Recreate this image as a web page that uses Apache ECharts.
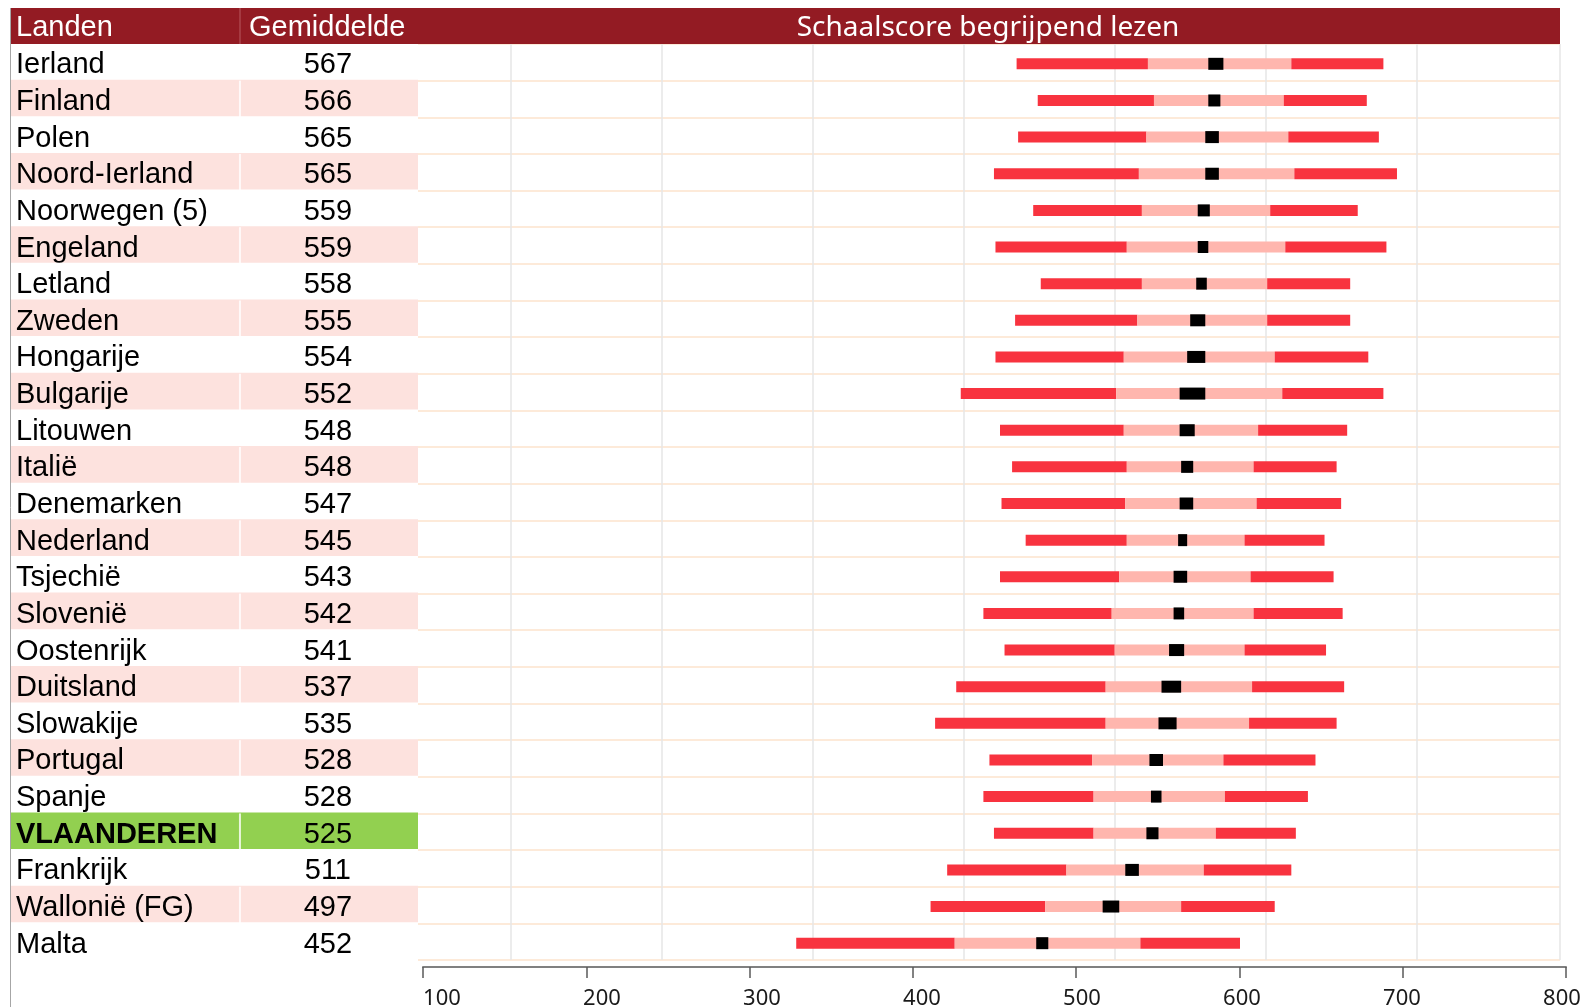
<!DOCTYPE html>
<html>
<head>
<meta charset="utf-8">
<title>Schaalscore begrijpend lezen</title>
<script src="https://cdn.jsdelivr.net/npm/echarts@6/dist/echarts.min.js"></script>
<style>
    html, body { margin: 0; padding: 0; background: #ffffff; }
    #chart { width: 1593px; height: 1007px; }
</style>
</head>
<body>
<div id="chart"></div>
<script>
// landen en gemiddelde score
var countries = ['Ierland', 'Finland', 'Polen', 'Noord-Ierland', 'Noorwegen (5)', 'Engeland', 'Letland',
    'Zweden', 'Hongarije', 'Bulgarije', 'Litouwen', 'Italië', 'Denemarken', 'Nederland', 'Tsjechië',
    'Slovenië', 'Oostenrijk', 'Duitsland', 'Slowakije', 'Portugal', 'Spanje', 'VLAANDEREN', 'Frankrijk',
    'Wallonië (FG)', 'Malta'];
var means = [567, 566, 565, 565, 559, 559, 558, 555, 554, 552, 548, 548, 547, 545, 543, 542, 541, 537,
    535, 528, 528, 525, 511, 497, 452];

// percentielen (5, 25, 75, 95) en betrouwbaarheidsinterval van het gemiddelde
var p5  = [435, 449, 436, 420, 446, 421, 451, 434, 421, 398, 424, 432, 425, 441, 424, 413, 427, 395, 381, 417, 413, 420, 389, 378, 289];
var p25 = [522, 526, 521, 516, 518, 508, 518, 515, 506, 501, 506, 508, 507, 508, 503, 498, 500, 494, 494, 485, 486, 486, 468, 454, 394];
var ciLow  = [562, 562, 560, 560, 555, 555, 554, 550, 548, 543, 543, 544, 543, 542, 539, 539, 536, 531, 529, 523, 524, 521, 507, 492, 448];
var ciHigh = [572, 570, 569, 569, 563, 562, 561, 560, 560, 560, 553, 552, 552, 548, 548, 546, 546, 544, 541, 532, 531, 529, 516, 503, 456];
var p75 = [617, 612, 615, 619, 603, 613, 601, 601, 606, 611, 595, 592, 594, 586, 590, 592, 586, 591, 589, 572, 573, 567, 559, 544, 517];
var p95 = [678, 667, 675, 687, 661, 680, 656, 656, 668, 678, 654, 647, 650, 639, 645, 651, 640, 652, 647, 633, 628, 620, 617, 606, 583];

var axisTicks = [100, 200, 300, 400, 500, 600, 700, 800];
var highlight = 'VLAANDEREN';

var FONT = '"Liberation Sans", Arial, sans-serif';

var tableData = [];
var barData = [];
for (var i = 0; i < countries.length; i++) {
    tableData.push([i]);
    barData.push([i, p5[i], p25[i], ciLow[i], ciHigh[i], p75[i], p95[i]]);
}

// rij van de tabel: achtergrond, land en gemiddelde
function renderRow(params, api) {
    var i = api.value(0);
    var c = api.coord([0, i]);
    var s = api.size([1, 1]);
    var w = s[0], h = s[1];
    var x0 = c[0], y0 = c[1] - h / 2;
    var name = countries[i];
    var hl = name === highlight;
    var fill = hl ? '#92D050' : (i % 2 ? '#FDE2DE' : '#FFFFFF');
    var children = [{
        type: 'rect',
        shape: { x: x0, y: y0 - 1, width: w + 1, height: h + 2 },
        style: { fill: fill }
    }];
    if (fill !== '#FFFFFF') {
        children.push({
            type: 'rect',
            shape: { x: x0 + w * 0.565 - 1, y: y0, width: 2, height: h },
            style: { fill: 'rgba(255,255,255,0.8)' }
        });
    }
    children.push({
        type: 'text',
        style: {
            text: name, x: x0 + 6, y: c[1] + 3, verticalAlign: 'middle',
            font: (hl ? 'bold ' : '') + '29px ' + FONT, fill: '#000'
        }
    });
    children.push({
        type: 'text',
        style: {
            text: String(means[i]), x: x0 + w * 0.781, y: c[1] + 3, align: 'center', verticalAlign: 'middle',
            font: '29px ' + FONT, fill: '#000'
        }
    });
    return { type: 'group', children: children };
}

// percentielbalk met het gemiddelde
function renderBar(params, api) {
    var i = api.value(0);
    var yc = api.coord([0, i])[1] + 1.5;
    var x = [];
    for (var k = 1; k <= 6; k++) {
        x.push(api.coord([api.value(k), i])[0]);
    }
    var bh = 11;
    function seg(a, b, color, hh) {
        return {
            type: 'rect',
            shape: { x: a, y: yc - hh / 2, width: b - a, height: hh },
            style: { fill: color }
        };
    }
    return {
        type: 'group',
        children: [
            seg(x[0], x[1], '#F8333F', bh),
            seg(x[1], x[4], '#FFB6AE', bh),
            seg(x[4], x[5], '#F8333F', bh),
            seg(x[2], x[3], '#000000', 12)
        ]
    };
}

var chart = echarts.init(document.getElementById('chart'), null, { renderer: 'canvas' });

var option = {
    animation: false,
    backgroundColor: '#ffffff',
    grid: [
        { left: 360, width: 1200, top: 44, height: 916 },
        { left: 10, width: 407, top: 44, height: 916 },
        { left: 423, right: 27, top: 966, height: 1 },
        { left: 442, right: 31, top: 966, height: 1 }
    ],
    xAxis: [
        {
            gridIndex: 0, type: 'value', min: 0, max: 795, interval: 100,
            axisLine: { show: false }, axisTick: { show: false }, axisLabel: { show: false },
            splitLine: { show: true, lineStyle: { color: '#E6E6E6', width: 1.5 } }
        },
        {
            gridIndex: 1, type: 'value', min: 0, max: 1, show: false
        },
        {
            gridIndex: 2, type: 'value', min: axisTicks[0], max: axisTicks[axisTicks.length - 1], interval: 100,
            axisLine: { show: true, lineStyle: { color: '#808080', width: 2 } },
            axisTick: { show: true, length: 11, lineStyle: { color: '#595959', width: 1.5 } },
            axisLabel: { show: false },
            splitLine: { show: false }
        },
        {
            gridIndex: 3, type: 'value', min: axisTicks[0], max: axisTicks[axisTicks.length - 1], interval: 100,
            axisLine: { show: false }, axisTick: { show: false }, splitLine: { show: false },
            axisLabel: {
                show: true, margin: 21, color: '#1a1a1a', fontSize: 22,
                fontFamily: '"Noto Sans", "Open Sans", sans-serif'
            }
        }
    ],
    yAxis: [
        {
            gridIndex: 0, type: 'category', data: countries, inverse: true,
            axisLine: { show: false }, axisTick: { show: false }, axisLabel: { show: false },
            splitLine: { show: true, interval: 0, lineStyle: { color: '#FCE3CC', width: 1.5 } }
        },
        {
            gridIndex: 1, type: 'category', data: countries, inverse: true, show: false
        },
        { gridIndex: 2, type: 'value', show: false },
        { gridIndex: 3, type: 'value', show: false }
    ],
    graphic: [
        {
            type: 'rect', z: 10,
            shape: { x: 10, y: 8, width: 1550, height: 36 },
            style: { fill: '#931B23' }
        },
        {
            type: 'line', z: 11,
            shape: { x1: 240, y1: 8, x2: 240, y2: 44 },
            style: { stroke: '#B85A60', lineWidth: 1 }
        },
        {
            type: 'text', z: 12,
            style: { text: 'Landen', x: 16, y: 28, verticalAlign: 'middle', font: '29px ' + FONT, fill: '#ffffff' }
        },
        {
            type: 'text', z: 12,
            style: { text: 'Gemiddelde', x: 249, y: 28, verticalAlign: 'middle', font: '29px ' + FONT, fill: '#ffffff' }
        },
        {
            type: 'text', z: 12,
            style: {
                text: 'Schaalscore begrijpend lezen', x: 988, y: 28, align: 'center', verticalAlign: 'middle',
                font: '28px "Noto Sans", "Open Sans", sans-serif', fill: '#ffffff'
            }
        },
        {
            type: 'line', z: 20,
            shape: { x1: 10.5, y1: 8, x2: 10.5, y2: 1007 },
            style: { stroke: '#A6A6A6', lineWidth: 1 }
        }
    ],
    series: [
        {
            type: 'custom',
            name: 'tabel',
            xAxisIndex: 1,
            yAxisIndex: 1,
            z: 5,
            silent: true,
            renderItem: renderRow,
            encode: { y: 0 },
            data: tableData
        },
        {
            type: 'custom',
            name: 'percentielen',
            xAxisIndex: 0,
            yAxisIndex: 0,
            silent: true,
            renderItem: renderBar,
            encode: { x: [1, 2, 3, 4, 5, 6], y: 0 },
            data: barData
        }
    ]
};

chart.setOption(option);
</script>
</body>
</html>
